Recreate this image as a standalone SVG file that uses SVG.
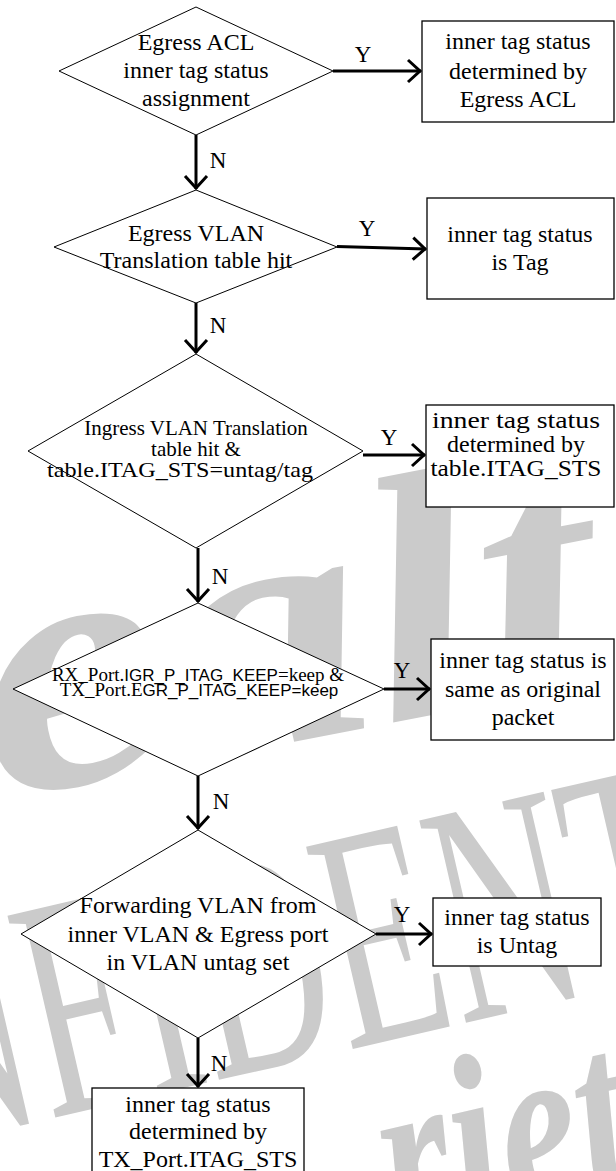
<svg xmlns="http://www.w3.org/2000/svg" width="616" height="1171" viewBox="0 0 616 1171">
  <style>
    .node { fill: #ffffff; stroke: #000000; stroke-width: 1; }
    .box { fill: #ffffff; stroke: #000000; stroke-width: 1.3; }
    .t { font-family: "Liberation Serif", "Times New Roman", serif; font-size: 24px; fill: #000000; text-anchor: middle; }
    .t21 { font-family: "Liberation Serif", "Times New Roman", serif; font-size: 21px; fill: #000000; text-anchor: middle; }
    .mix { font-family: "Liberation Serif", "Times New Roman", serif; font-size: 19px; fill: #000000; text-anchor: middle; }
    .sans { font-family: "Liberation Sans", Arial, sans-serif; font-size: 17px; }
    .lbl { font-family: "Liberation Serif", "Times New Roman", serif; font-size: 23px; fill: #000000; text-anchor: middle; }
    .flow { stroke: #000000; stroke-width: 3; fill: none; marker-end: url(#chev); }
    .wm { fill: #cbcbcb; font-family: "Liberation Serif", "Times New Roman", serif; }
  </style>
  <defs>
    <marker id="chev" markerUnits="userSpaceOnUse" markerWidth="24" markerHeight="28" refX="17" refY="14" orient="auto">
      <path d="M4,3 L16,14 L4,25" fill="none" stroke="#000000" stroke-width="3"/>
    </marker>
  </defs>

  <!-- background watermark lettering -->
  <g id="watermark">
    <text class="wm" x="0" y="0" font-size="350" font-weight="bold" font-style="italic" transform="translate(-5,800) rotate(-11) scale(1.2,1)">ealt</text>
    <text class="wm" x="0" y="0" font-size="317" transform="translate(-85,1150) rotate(-13) scale(0.6,1)">NFIDENT</text>
    <text class="wm" x="0" y="0" font-size="240" font-weight="bold" font-style="italic" transform="translate(398,1240) rotate(-13) scale(0.75,1)">rietary</text>
  </g>

  <!-- connectors -->
  <g id="connectors">
    <line class="flow" x1="333" y1="71" x2="421" y2="71"/>
    <line class="flow" x1="196" y1="135" x2="196" y2="189"/>
    <line class="flow" x1="337" y1="246.5" x2="426" y2="249"/>
    <line class="flow" x1="196" y1="303" x2="196" y2="353"/>
    <line class="flow" x1="363" y1="455" x2="425" y2="455"/>
    <line class="flow" x1="198" y1="548" x2="198" y2="602"/>
    <line class="flow" x1="384" y1="689" x2="430" y2="689"/>
    <line class="flow" x1="198" y1="776" x2="198" y2="829"/>
    <line class="flow" x1="376" y1="934" x2="432" y2="934"/>
    <line class="flow" x1="198" y1="1038" x2="198" y2="1087"/>
    <text class="lbl" x="363" y="62">Y</text>
    <text class="lbl" x="218" y="168">N</text>
    <text class="lbl" x="367" y="236">Y</text>
    <text class="lbl" x="218" y="333">N</text>
    <text class="lbl" x="389" y="445">Y</text>
    <text class="lbl" x="220" y="584">N</text>
    <text class="lbl" x="402" y="678">Y</text>
    <text class="lbl" x="221" y="809">N</text>
    <text class="lbl" x="402" y="922">Y</text>
    <text class="lbl" x="219" y="1071">N</text>
  </g>

  <g id="dec-egress-acl">
    <polygon class="node" points="196,7 333,71 196,135 59,71"/>
    <text class="t" x="196" y="50">Egress ACL</text>
    <text class="t" x="196" y="78">inner tag status</text>
    <text class="t" x="196" y="106">assignment</text>
  </g>
  <g id="res-egress-acl">
    <rect class="box" x="422" y="21" width="192" height="101"/>
    <text class="t" x="518" y="49">inner tag status</text>
    <text class="t" x="518" y="79">determined by</text>
    <text class="t" x="518" y="107">Egress ACL</text>
  </g>

  <g id="dec-egress-vlan">
    <polygon class="node" points="196,190 337,247 196,303 54,247"/>
    <text class="t" x="196" y="241">Egress VLAN</text>
    <text class="t" x="196" y="268">Translation table hit</text>
  </g>
  <g id="res-tag">
    <rect class="box" x="427" y="198" width="187" height="101"/>
    <text class="t" x="520" y="242">inner tag status</text>
    <text class="t" x="520" y="270">is Tag</text>
  </g>

  <g id="dec-ingress-vlan">
    <polygon class="node" points="196,354 363,451 196,548 28,451"/>
    <text class="t21" x="196" y="435">Ingress VLAN Translation</text>
    <text class="t21" x="196" y="456">table hit &amp;</text>
    <text class="t21" x="180" y="477" textLength="266" lengthAdjust="spacingAndGlyphs">table.ITAG_STS=untag/tag</text>
  </g>
  <g id="res-itag-sts">
    <rect class="box" x="426" y="405" width="188" height="102"/>
    <text class="t" x="516" y="428" textLength="168" lengthAdjust="spacingAndGlyphs">inner tag status</text>
    <text class="t" x="516" y="452">determined by</text>
    <text class="t" x="516" y="476" textLength="171" lengthAdjust="spacingAndGlyphs">table.ITAG_STS</text>
  </g>

  <g id="dec-itag-keep">
    <polygon class="node" points="198,603 384,689 198,776 13,689"/>
    <text class="mix" x="198" y="681">RX_Port.<tspan class="sans">IGR_P_ITAG_KEEP</tspan>=keep &amp;</text>
    <text class="mix" x="199" y="696">TX_Port.E<tspan class="sans">GR_P_ITAG_KEEP=keep</tspan></text>
  </g>
  <g id="res-original">
    <rect class="box" x="431" y="639" width="183" height="101"/>
    <text class="t" x="523" y="668">inner tag status is</text>
    <text class="t" x="523" y="697">same as original</text>
    <text class="t" x="523" y="725">packet</text>
  </g>

  <g id="dec-untag-set">
    <polygon class="node" points="198,830 376,934 198,1038 21,934"/>
    <text class="t" x="198" y="913">Forwarding VLAN from</text>
    <text class="t" x="198" y="942">inner VLAN &amp; Egress port</text>
    <text class="t" x="198" y="970">in VLAN untag set</text>
  </g>
  <g id="res-untag">
    <rect class="box" x="433" y="898" width="168" height="68"/>
    <text class="t" x="517" y="925">inner tag status</text>
    <text class="t" x="517" y="953">is Untag</text>
  </g>

  <g id="res-tx-port">
    <rect class="box" x="92" y="1088" width="212" height="90"/>
    <text class="t" x="198" y="1112">inner tag status</text>
    <text class="t" x="198" y="1139">determined by</text>
    <text class="t" x="198" y="1167">TX_Port.ITAG_STS</text>
  </g>
</svg>
